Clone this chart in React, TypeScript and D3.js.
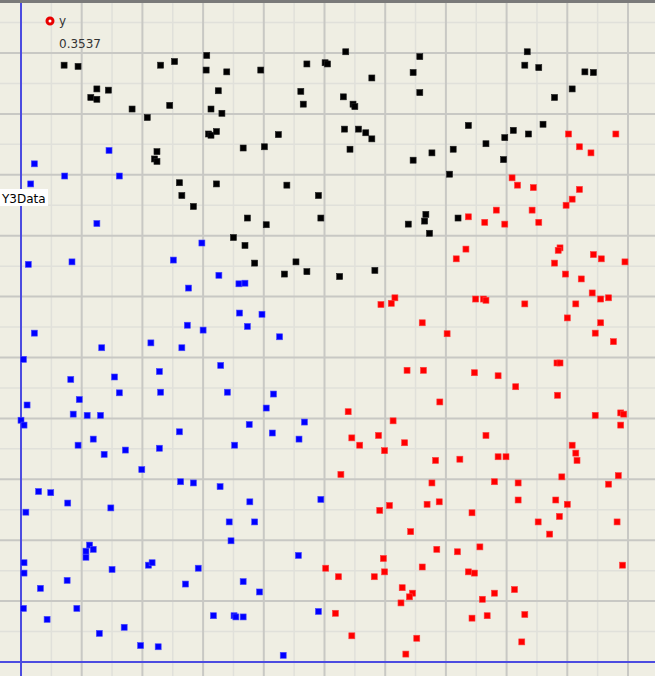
import React from "react";
import * as d3 from "d3";

const W = 655;
const H = 676;

// Series values (x, y in 0..100 data units)
const blackSeries: [number, number][] = [
  [7.1, 98.0], [9.4, 97.8], [12.5, 94.1], [14.4, 93.9], [11.5, 92.7], [12.5, 92.4], [18.3, 90.8],
  [20.8, 89.4], [24.5, 91.4], [23.0, 98.0], [25.3, 98.6], [30.6, 99.6], [30.5, 97.2], [32.5, 93.8],
  [31.3, 90.8], [33.1, 90.1], [30.9, 86.7], [31.3, 86.5], [32.2, 87.1], [22.4, 83.8], [22.0, 82.6],
  [22.4, 82.2], [26.1, 78.7], [26.5, 76.6], [28.4, 74.8], [32.2, 78.5],
  [53.5, 100.2], [65.7, 99.4], [47.1, 98.2], [50.1, 98.4], [50.5, 98.2], [33.9, 96.9], [39.5, 97.2],
  [57.8, 95.9], [64.6, 96.8], [46.1, 93.7], [46.5, 91.6], [53.1, 92.8], [54.7, 91.6], [55.0, 91.2],
  [65.7, 93.5], [42.4, 86.6], [53.3, 87.5], [55.6, 87.5], [56.8, 86.9], [57.8, 85.9], [36.6, 84.4],
  [40.1, 84.6], [54.2, 84.2], [64.6, 82.4], [67.7, 83.6], [43.8, 78.3], [49.0, 76.6], [37.3, 72.9],
  [40.4, 71.8], [49.4, 72.9], [66.7, 73.5], [66.5, 72.4], [63.8, 71.9],
  [83.4, 100.2], [83.0, 98.0], [85.3, 97.6], [92.9, 96.9], [94.3, 96.8], [90.8, 94.1], [87.9, 92.7],
  [73.7, 88.1], [81.1, 87.3], [79.7, 86.1], [83.6, 86.7], [86.0, 88.3], [71.2, 84.2], [76.6, 85.1],
  [79.5, 82.5], [70.6, 80.1], [72.0, 72.9],
  [67.3, 70.4], [35.0, 69.7], [36.9, 68.4], [38.5, 65.5], [45.3, 65.7], [43.4, 63.7], [47.1, 64.1],
  [52.5, 63.3], [58.3, 64.3],
];

const blueSeries: [number, number][] = [
  [14.5, 84.0], [2.2, 81.8], [7.2, 79.8], [16.2, 79.8], [1.6, 78.5], [12.5, 72.0],
  [29.8, 68.8], [1.2, 65.3], [8.4, 65.7], [25.1, 66.0], [32.6, 63.5], [27.6, 61.4], [2.2, 54.0],
  [13.3, 51.6], [21.4, 52.4], [26.5, 51.6], [27.4, 55.3], [30.0, 54.5], [0.4, 49.7], [8.2, 46.4],
  [15.4, 46.8], [22.8, 47.7], [16.2, 44.2], [23.0, 44.3], [32.9, 48.7], [9.6, 43.1], [1.0, 42.2],
  [8.6, 40.7], [10.9, 40.5], [13.1, 40.5], [0.0, 39.7], [0.5, 38.9], [26.1, 37.8], [11.9, 36.6],
  [9.4, 35.6], [22.8, 35.1], [17.2, 34.8],
  [35.9, 62.1], [36.9, 62.2], [36.0, 57.3], [39.7, 57.1], [37.3, 55.1], [42.6, 53.4], [34.0, 44.3],
  [41.6, 44.0], [40.4, 41.7], [37.6, 39.0], [46.7, 39.4], [41.4, 37.6], [45.8, 36.6], [35.2, 35.6],
  [13.7, 34.1], [19.9, 31.6], [26.3, 29.6], [28.4, 29.4], [32.8, 28.8], [2.9, 28.0], [4.9, 27.8],
  [7.7, 26.1], [14.8, 25.3], [0.8, 24.6], [11.3, 19.2], [11.9, 18.5], [10.7, 18.2], [10.7, 17.2],
  [0.5, 16.3], [0.5, 14.6], [15.0, 15.2], [21.0, 15.9], [21.6, 16.3], [29.2, 15.4], [7.6, 13.4],
  [3.2, 12.1], [27.1, 12.8], [0.4, 8.8], [9.2, 8.8], [4.3, 7.0], [31.7, 7.6], [17.0, 5.7],
  [12.9, 4.7], [19.7, 2.7], [22.6, 2.5],
  [37.7, 26.3], [49.4, 26.7], [34.3, 23.0], [38.5, 23.0], [34.6, 19.9], [45.7, 17.5], [36.6, 13.2],
  [39.3, 11.5], [35.1, 7.6], [35.4, 7.4], [36.6, 7.4], [49.0, 8.3], [43.2, 1.1],
];

const redSeries: [number, number][] = [
  [90.2, 86.7], [98.0, 86.7], [92.0, 84.6], [93.9, 83.6], [80.9, 79.5], [81.8, 78.3], [84.4, 77.9],
  [92.0, 77.6], [90.8, 76.0], [89.8, 75.0], [78.3, 74.2], [84.2, 74.2], [73.7, 73.1], [76.4, 72.2],
  [79.7, 71.9], [85.3, 72.2],
  [73.3, 67.8], [71.7, 66.2], [88.8, 68.0], [88.5, 67.6], [94.3, 66.9], [95.6, 66.2], [99.5, 65.7],
  [87.9, 65.5], [89.7, 63.7], [92.3, 62.9], [94.1, 60.6], [95.5, 59.6], [96.8, 59.8], [91.4, 58.8],
  [74.9, 59.6], [76.2, 59.6], [76.6, 59.4], [83.0, 58.8], [90.0, 56.5], [95.5, 55.7], [94.6, 54.0],
  [97.6, 52.6], [70.2, 53.9], [88.3, 49.1], [88.8, 49.1], [74.7, 47.5], [78.6, 47.0], [81.5, 45.2],
  [88.4, 43.8], [69.0, 42.7], [94.6, 40.5], [98.8, 40.9], [99.3, 40.7], [98.8, 38.9], [76.6, 37.2],
  [90.8, 35.6],
  [61.6, 59.8], [61.0, 58.9], [59.3, 58.7], [66.1, 55.7], [63.6, 47.9], [66.3, 47.9], [53.9, 41.1],
  [61.3, 39.6], [58.9, 37.2], [54.5, 36.8], [55.8, 35.6], [63.2, 36.0], [59.9, 34.7],
  [68.3, 33.1], [52.7, 30.8], [67.7, 29.4], [59.1, 24.9], [60.7, 25.7], [66.9, 25.9], [68.9, 26.3],
  [64.2, 21.4], [68.5, 18.5], [59.7, 17.0], [59.9, 14.8], [66.1, 15.6], [50.2, 15.4], [52.3, 14.0],
  [58.2, 14.0], [62.8, 12.2], [64.5, 11.3], [64.0, 10.7], [62.6, 9.7], [51.8, 8.0], [54.5, 4.3],
  [65.2, 3.9], [63.4, 1.3],
  [91.4, 34.3], [91.6, 33.1], [72.3, 33.3], [78.6, 33.7], [79.9, 33.7], [89.1, 30.4], [98.4, 30.6],
  [96.8, 29.2], [78.0, 29.6], [81.9, 29.4], [81.9, 26.6], [88.1, 26.6], [90.0, 25.9], [74.3, 24.5],
  [88.7, 23.9], [85.2, 23.0], [98.2, 23.0], [87.1, 21.0], [71.9, 18.1], [75.6, 18.9], [99.1, 15.9],
  [73.7, 14.8], [74.7, 14.6], [78.0, 11.3], [81.3, 11.9], [76.0, 10.3], [74.3, 7.2], [76.8, 7.6],
  [83.0, 7.8], [82.5, 3.3],
];

const seriesColors = ["#000000", "#0000ff", "#ff0000"];
const legendLabel = "y";
const cursorValue = "0.3537";
const axisTitle = "Y3Data";

export default function App() {
  const x = d3.scaleLinear().domain([0, 100]).range([21, 628]);
  const y = d3.scaleLinear().domain([0, 100]).range([662, 53]);

  const gridVals = d3.range(-10, 115, 5);
  const allSeries = [blackSeries, blueSeries, redSeries];
  const s = 6;

  return (
    <div style={{ position: "fixed", left: 0, top: 0, width: W, height: H }}>
      <svg width={W} height={H} style={{ display: "block" }}>
        <rect x={0} y={0} width={W} height={H} fill="#efeee3" />
        {/* minor grid */}
        {gridVals.filter((v) => v % 10 !== 0).map((v) => (
          <g key={"m" + v}>
            <line x1={x(v)} x2={x(v)} y1={0} y2={H} stroke="#e0e0da" strokeWidth={1.5} />
            <line x1={0} x2={W} y1={y(v)} y2={y(v)} stroke="#e0e0da" strokeWidth={1.5} />
          </g>
        ))}
        {/* major grid */}
        {gridVals.filter((v) => v % 10 === 0).map((v) => (
          <g key={"M" + v}>
            <line x1={x(v)} x2={x(v)} y1={0} y2={H} stroke="#c8c8c4" strokeWidth={2} />
            <line x1={0} x2={W} y1={y(v)} y2={y(v)} stroke="#c8c8c4" strokeWidth={2} />
          </g>
        ))}
        {/* top border */}
        <rect x={0} y={0} width={W} height={3} fill="#7a7a7a" />
        {/* axes */}
        <line x1={x(0)} x2={x(0)} y1={3} y2={H} stroke="#4c4ce0" strokeWidth={2} />
        <line x1={0} x2={W} y1={y(0)} y2={y(0)} stroke="#4c4ce0" strokeWidth={2} />
        {/* points */}
        {allSeries.map((ser, i) => (
          <g key={"s" + i}>
            {ser.map(([dx, dy], j) => (
              <rect
                key={j}
                x={x(dx) - s / 2}
                y={y(dy) - s / 2}
                width={s}
                height={s}
                fill={seriesColors[i]}
                stroke={i === 1 ? "#4a4aff" : i === 2 ? "#ff4040" : "#222"}
                strokeWidth={0.6}
              />
            ))}
          </g>
        ))}
        {/* legend */}
        <circle cx={50} cy={21} r={3} fill="#ffffff" stroke="#e80000" strokeWidth={3} />
        <text x={59} y={25} fontFamily="DejaVu Sans, sans-serif" fontSize={12} fill="#333">
          {legendLabel}
        </text>
        <text x={59} y={48} fontFamily="DejaVu Sans, sans-serif" fontSize={12} fill="#333">
          {cursorValue}
        </text>
        {/* axis title */}
        <rect x={0} y={189} width={48} height={17} fill="#ffffff" />
        <text x={2} y={203} fontFamily="DejaVu Sans, sans-serif" fontSize={12} fill="#000">
          {axisTitle}
        </text>
      </svg>
    </div>
  );
}
